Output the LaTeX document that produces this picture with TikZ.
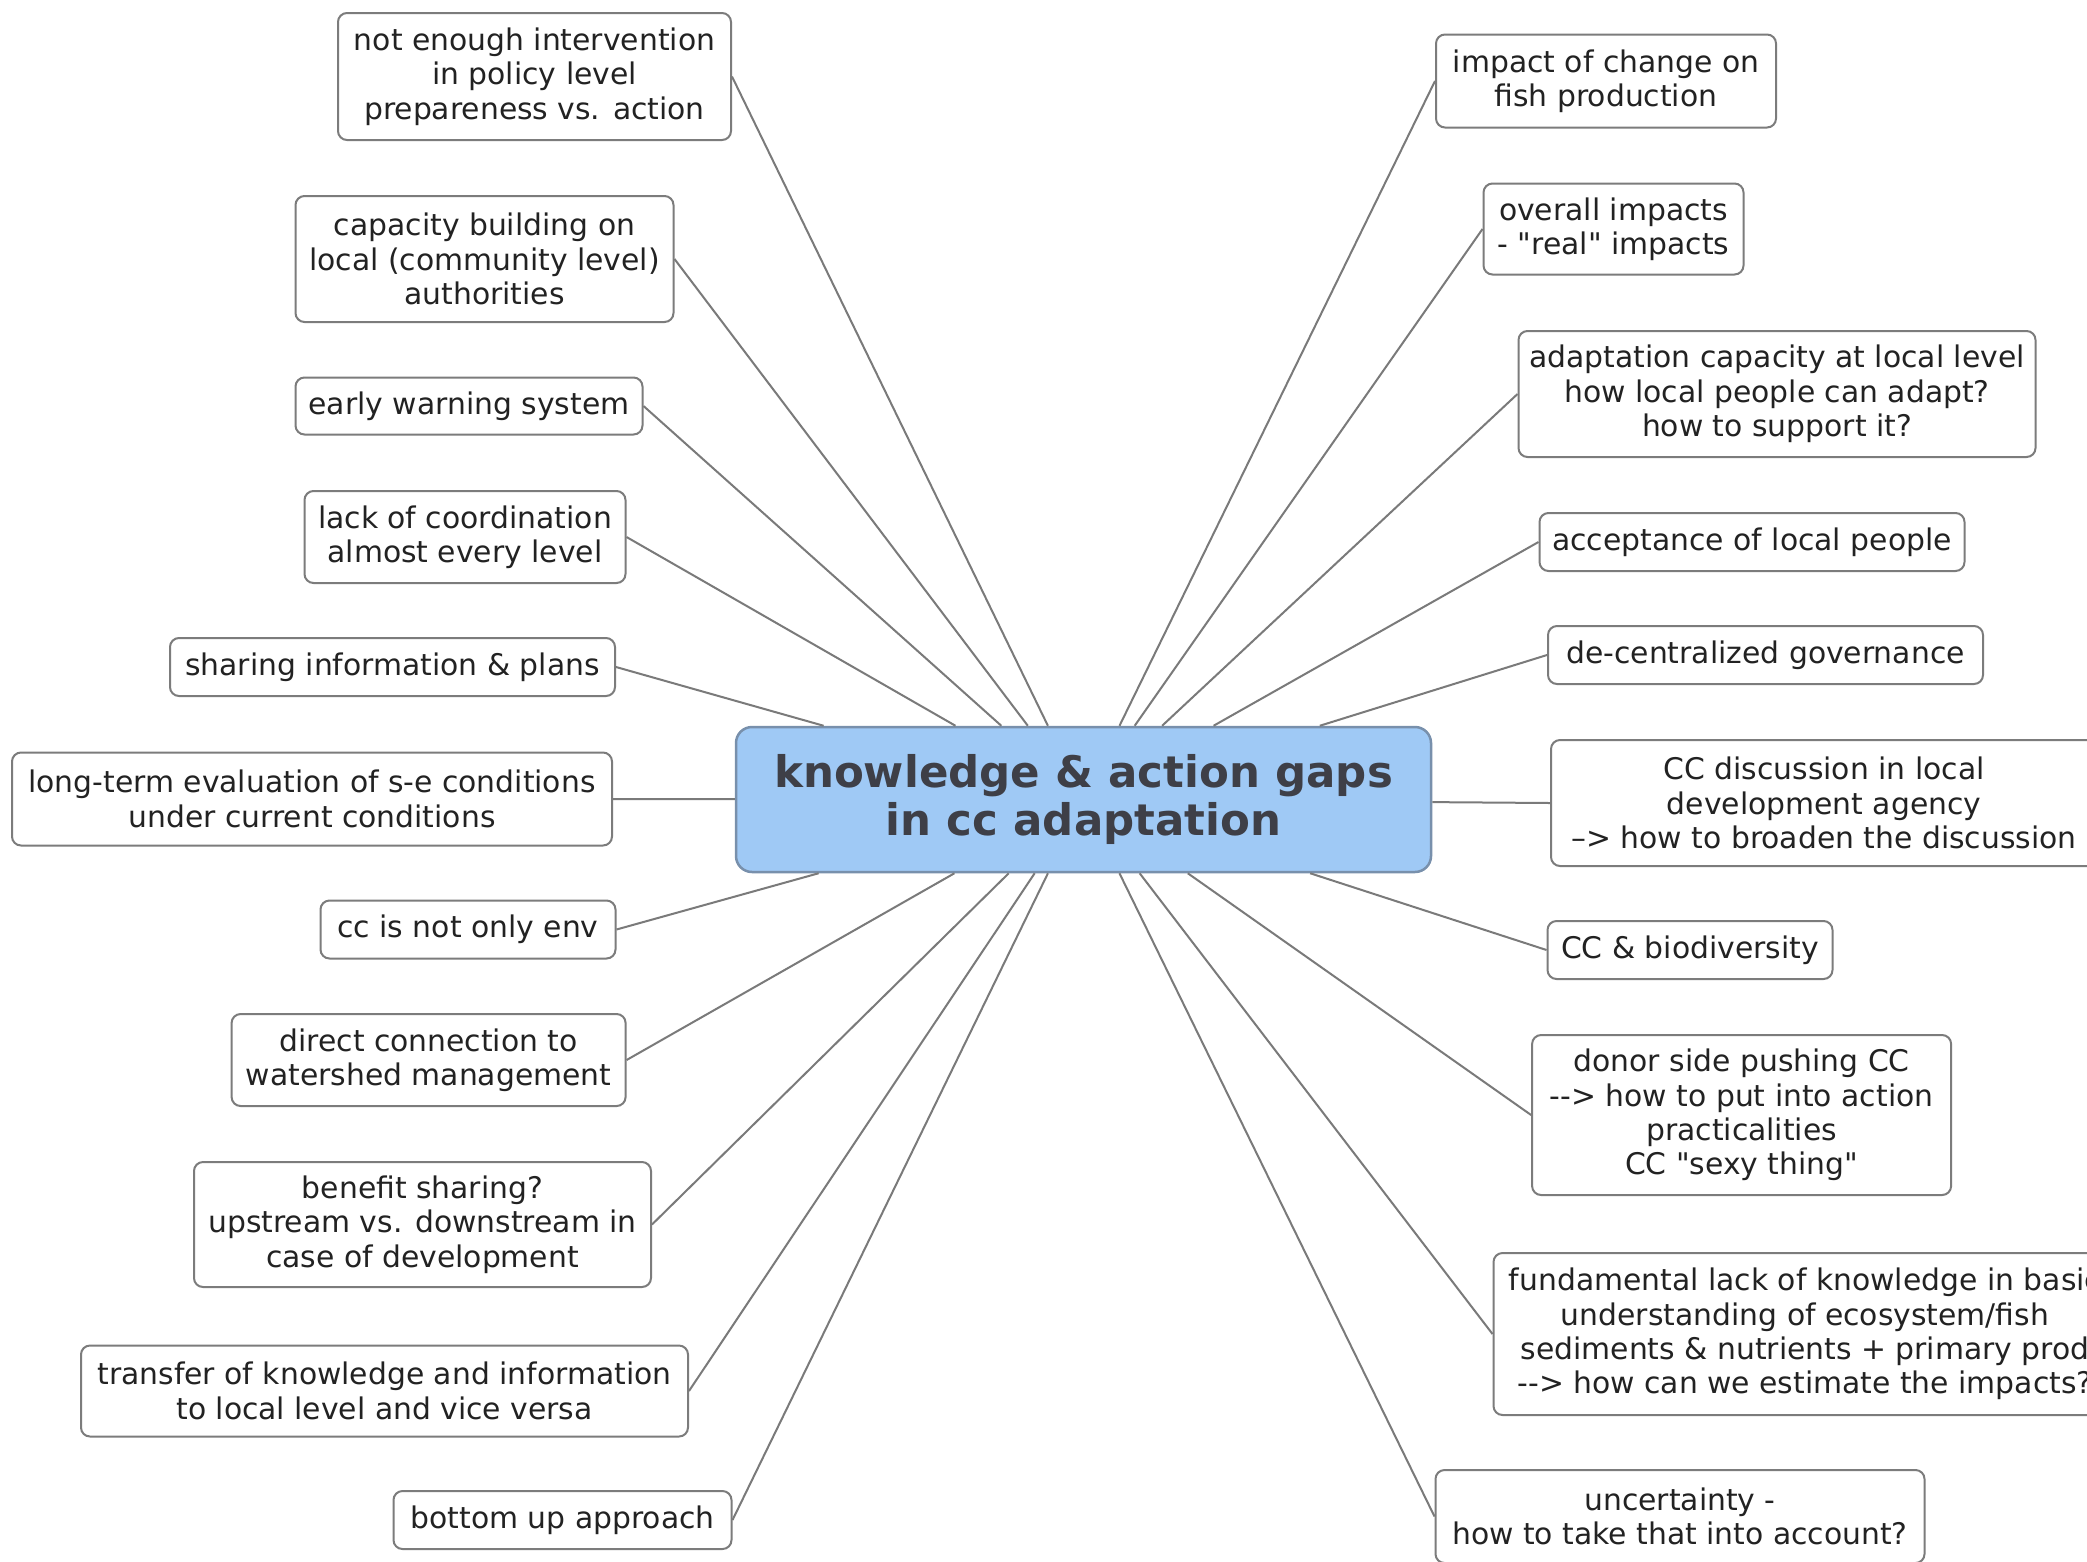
\documentclass[tikz,border=0pt]{standalone}
\usepackage{fontspec}
\setmainfont{DejaVu Sans}
\newfontfamily\dvplain{DejaVu Sans}[Ligatures=TeXOff]
\definecolor{boxline}{HTML}{7C7C7C}
\definecolor{boxtext}{HTML}{222222}
\definecolor{connline}{HTML}{7A7A7A}
\definecolor{hubfill}{HTML}{9FC9F5}
\definecolor{hubline}{HTML}{7890AC}
\definecolor{hubtext}{HTML}{3E3F47}
\begin{document}
\begin{tikzpicture}[x=1pt,y=-1pt,
  box/.style={draw=boxline, line width=2pt, rounded corners=9pt, fill=white,
    align=center, inner sep=0pt, text=boxtext,
    font=\dvplain\fontsize{29.8}{34.3}\selectfont},
  hub/.style={draw=hubline, line width=2.5pt, rounded corners=16pt, fill=hubfill,
    align=center, inner sep=0pt, text=hubtext,
    font=\fontsize{43.5}{48}\selectfont\bfseries},
  conn/.style={draw=connline, line width=2pt}]
\clip (0,0) rectangle (2087,1561);
\fill[white] (0,0) rectangle (2087,1561);

\node[hub, minimum width=695pt, minimum height=145pt] (C) at (1083.5,799.5)
  {knowledge \& action gaps\\in cc adaptation};

% left side
\node[box, minimum width=393pt, minimum height=127pt] (L1) at (534.5,76.5)
  {not enough intervention\\in policy level\\prepareness vs. action};
\node[box, minimum width=378pt, minimum height=126pt] (L2) at (484.5,259)
  {capacity building on\\local (community level)\\authorities};
\node[box, minimum width=347pt, minimum height=57pt] (L3) at (469,406)
  {early warning system};
\node[box, minimum width=321pt, minimum height=92pt] (L4) at (465,537)
  {lack of coordination\\almost every level};
\node[box, minimum width=445pt, minimum height=58pt] (L5) at (392.5,667)
  {sharing information \& plans};
\node[box, minimum width=600pt, minimum height=93pt] (L6) at (312,799)
  {long-term evaluation of s-e conditions\\under current conditions};
\node[box, minimum width=295pt, minimum height=58pt] (L7) at (468,929.5)
  {cc is not only env};
\node[box, minimum width=394pt, minimum height=92pt] (L8) at (428.6,1060)
  {direct connection to\\watershed management};
\node[box, minimum width=457pt, minimum height=125pt] (L9) at (422.5,1224.5)
  {benefit sharing?\\upstream vs. downstream in\\case of development};
\node[box, minimum width=607pt, minimum height=91pt] (L10) at (384.5,1391)
  {transfer of knowledge and information\\to local level and vice versa};
\node[box, minimum width=338pt, minimum height=58pt] (L11) at (562.5,1520)
  {bottom up approach};

% right side
\node[box, minimum width=340pt, minimum height=93pt] (R1) at (1606,81)
  {impact of change on\\fish production};
\node[box, minimum width=260pt, minimum height=91pt] (R2) at (1613.5,229)
  {overall impacts\\- "real" impacts};
\node[box, minimum width=517pt, minimum height=126pt] (R3) at (1777,394)
  {adaptation capacity at local level\\how local people can adapt?\\how to support it?};
\node[box, minimum width=425pt, minimum height=58pt] (R4) at (1752,542)
  {acceptance of local people};
\node[box, minimum width=435pt, minimum height=58pt] (R5) at (1765.5,655)
  {de-centralized governance};
\node[box, minimum width=546pt, minimum height=126pt] (R6) at (1824,803)
  {CC discussion in local\\development agency\\\textendash> how to broaden the discussion};
\node[box, minimum width=285pt, minimum height=58pt] (R7) at (1690,950)
  {CC \& biodiversity};
\node[box, minimum width=419pt, minimum height=160pt] (R8) at (1741.6,1115)
  {donor side pushing CC\\--> how to put into action\\practicalities\\CC "sexy thing"};
\node[box, minimum width=623pt, minimum height=162pt] (R9) at (1805,1334)
  {fundamental lack of knowledge in basic\\understanding of ecosystem/fish\\sediments \& nutrients + primary prod\\--> how can we estimate the impacts?};
\node[box, minimum width=489pt, minimum height=93pt] (R10) at (1680,1516.5)
  {uncertainty -\\how to take that into account?};

% connectors
\foreach \n in {L1,L2,L3,L4,L5,L6,L7,L8,L9,L10,L11}
  \draw[conn] (C) -- (\n.east);
\foreach \n in {R1,R2,R3,R4,R5,R6,R7,R8,R9,R10}
  \draw[conn] (C) -- (\n.west);
\end{tikzpicture}
\end{document}
